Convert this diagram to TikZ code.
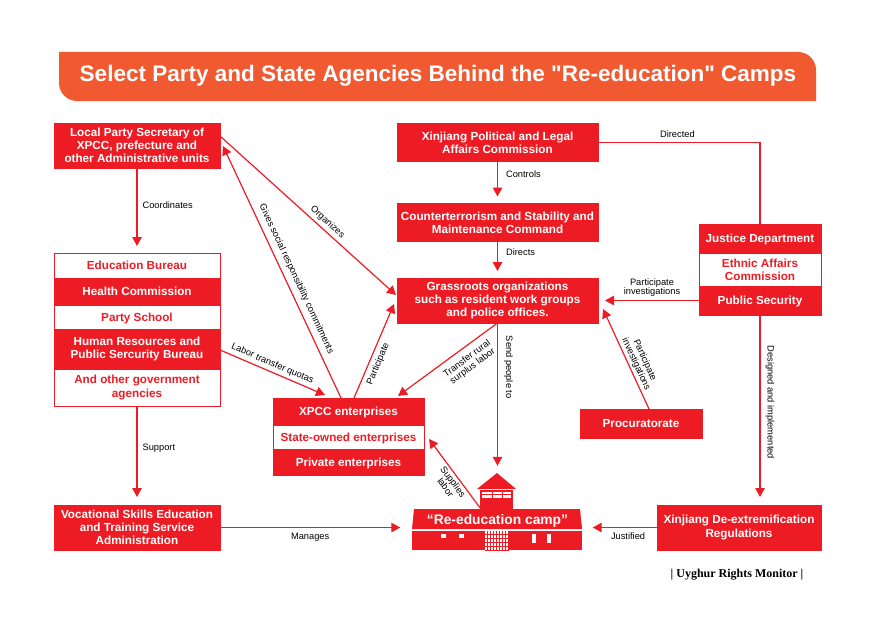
\documentclass[tikz,border=0pt]{standalone}
\usepackage{fontspec}
\setmainfont{Liberation Sans}
\newfontfamily\titlefont{Liberation Sans}
\newfontfamily\footerfont{Liberation Serif}
\usetikzlibrary{arrows.meta,positioning,calc}
\definecolor{figred}{HTML}{ED1C24}
\definecolor{figorange}{HTML}{F15A30}
\tikzset{
  redbox/.style={
    rectangle, draw=figred, fill=figred, text=white, line width=0.8pt,
    font=\fontsize{11.7}{13.3}\selectfont\bfseries,
    align=center, inner sep=0pt, outer sep=0pt
  },
  whitebox/.style={
    redbox, fill=white, text=figred
  },
  oneline/.style={text height=10pt, text depth=2pt},
  arrow/.style={-{Triangle[length=9pt,width=9.5pt]}, line width=1.2pt, draw=figred},
  plainline/.style={line width=1.2pt, draw=figred},
  edgelabel/.style={font=\fontsize{9.3}{9.5}\selectfont, align=center, inner sep=0pt}
}

\begin{document}
\begin{tikzpicture}[x=1pt,y=-1pt]
  \useasboundingbox (0,0) rectangle (875,618);

  \fill[figorange] (59,52) [rounded corners=18pt] -- (816,52) [sharp corners] -- (816,101)
    [rounded corners=18pt] -- (59,101) [sharp corners] -- cycle;
  \node[text=white, font=\titlefont\fontsize{22.5}{26}\selectfont\bfseries] (title) at (438,75.5) {Select Party and State Agencies Behind the "Re-education" Camps};

  \node[redbox, minimum width=166pt, minimum height=45pt] (secretary) at (137,145.5) {Local Party Secretary of\\XPCC, prefecture and\\other Administrative units};

  \node[whitebox, oneline, minimum width=166pt, minimum height=25pt] (education) at (137,265.5) {Education Bureau};
  \node[redbox, oneline, minimum width=166pt, minimum height=27pt, below=0pt of education] (health) {Health Commission};
  \node[whitebox, oneline, minimum width=166pt, minimum height=24pt, below=0pt of health] (school) {Party School};
  \node[redbox, minimum width=166pt, minimum height=40pt, below=0pt of school] (resources) {Human Resources and\\Public Sercurity Bureau};
  \node[whitebox, minimum width=166pt, minimum height=37pt, below=0pt of resources] (other) {And other government\\agencies};

  \node[redbox, minimum width=166pt, minimum height=45pt] (vocational) at (137,527.5) {Vocational Skills Education\\and  Training Service\\Administration};

  \node[redbox, minimum width=201pt, minimum height=38pt] (political) at (497.5,142.5) {Xinjiang Political and Legal\\Affairs Commission};
  \node[redbox, minimum width=201pt, minimum height=38pt] (command) at (497.5,222.5) {Counterterrorism and Stability and\\Maintenance Command};
  \node[redbox, minimum width=201pt, minimum height=45pt] (grassroots) at (497.5,300.5) {Grassroots organizations\\such as resident work groups\\and police offices.};

  \node[redbox, oneline, minimum width=122pt, minimum height=29pt] (justice) at (760,238.5) {Justice Department};
  \node[whitebox, minimum width=122pt, minimum height=33pt, below=0pt of justice] (ethnic) {Ethnic Affairs\\Commission};
  \node[redbox, oneline, minimum width=122pt, minimum height=29pt, below=0pt of ethnic] (security) {Public Security};

  \node[redbox, oneline, minimum width=122pt, minimum height=29pt] (procuratorate) at (641,423.5) {Procuratorate};

  \node[redbox, oneline, minimum width=151pt, minimum height=27pt] (xpcc) at (348.5,411.5) {XPCC enterprises};
  \node[whitebox, oneline, minimum width=151pt, minimum height=24pt, below=0pt of xpcc] (stateowned) {State-owned enterprises};
  \node[redbox, oneline, minimum width=151pt, minimum height=26pt, below=0pt of stateowned] (private) {Private enterprises};

  \node[redbox, minimum width=164pt, minimum height=45pt] (regulations) at (739,527.5) {Xinjiang De-extremification\\Regulations};

  \fill[figred] (497,473) -- (516,489) -- (477,489) -- cycle;
  \fill[figred] (480,490) rectangle (513,509);
  \fill[white] (482,492) rectangle (511,498);
  \draw[figred, line width=0.7pt] (492,492) -- (492,498) (502,492) -- (502,498) (482,494) -- (511,494);
  \fill[figred] (414,509) -- (580,509) -- (582,529) -- (412,529) -- cycle;
  \fill[figred] (412,531) rectangle (582,550);
  \fill[white] (485,531) rectangle (509,550);
  \foreach \gatex in {487,490,...,508} {
    \draw[figred, line width=0.7pt] (\gatex,531) -- (\gatex,550);
  }
  \foreach \gatey in {534,538,...,550} {
    \draw[figred, line width=0.6pt] (485,\gatey) -- (509,\gatey);
  }
  \fill[white] (441,534) rectangle (446,538);
  \fill[white] (459,534) rectangle (464,538);
  \fill[white] (532,534) rectangle (536,543);
  \fill[white] (547,534) rectangle (551,543);
  \node[text=white, font=\fontsize{13.8}{16}\selectfont\bfseries, inner sep=0pt, minimum width=170pt, minimum height=20pt] (camp) at (497.5,520.5) {“Re-education camp”};

  \node[font=\footerfont\fontsize{12}{14}\selectfont\bfseries, inner sep=0pt] (monitor) at (737,575) {| Uyghur Rights Monitor |};

  \draw[arrow, shorten >=7pt] (secretary.south) -- node[edgelabel, right=5pt, pos=0.44] (coordinateslabel) {Coordinates} (education.north);
  \draw[arrow, shorten >=8pt] (other.south) -- node[edgelabel, right=5pt, pos=0.43] (supportlabel) {Support} (vocational.north);
  \draw[arrow] (vocational.east) -- node[edgelabel, below=5pt] (manageslabel) {Manages} ([xshift=-12pt]camp.west |- vocational.east);
  \draw[arrow] (regulations.west) -- node[edgelabel, below=5pt, pos=0.45] (justifiedlabel) {Justified} ([xshift=10pt]camp.east |- regulations.west);
  \draw[arrow, shorten >=7pt] (political.south) -- node[edgelabel, right=8pt, pos=0.31] (controlslabel) {Controls} (command.north);
  \draw[arrow, shorten >=7pt] (command.south) -- node[edgelabel, right=8pt, pos=0.3] (directslabel) {Directs} (grassroots.north);
  \draw[plainline] (political.east) -| node[edgelabel, above=4.5pt, pos=0.245] (directedlabel) {Directed} (justice.north);
  \draw[arrow] (security.west) -- node[edgelabel, above=3pt] (investigateslabel) {Participate\\investigations} ([xshift=7pt]grassroots.east |- security.west);
  \draw[arrow] ([xshift=8pt]procuratorate.north) -- node[edgelabel, sloped, above=2pt, pos=0.42] (procuratelabel) {Participate\\investigations} ([xshift=5pt,yshift=14pt]grassroots.south east);
  \draw[arrow] (security.south) -- node[edgelabel, sloped, above=5pt, pos=0.48] (designedlabel) {Designed and implemented} ([yshift=8pt]security.south |- regulations.north);
  \draw[arrow] (grassroots.south) -- node[edgelabel, sloped, above=6pt, pos=0.31] (sendlabel) {Send people to} ([yshift=44.5pt]camp.north);
  \draw[arrow] (grassroots.south) -- node[edgelabel, sloped, below=6pt, pos=0.37] (transferlabel) {Transfer rural\\surplus labor} ([xshift=49.5pt,yshift=2pt]xpcc.north);
  \draw[arrow] ([yshift=-1pt]resources.east) -- node[edgelabel, sloped, above=3pt, pos=0.47] (quotaslabel) {Labor transfer quotas} ([xshift=-23.5pt,yshift=3pt]xpcc.north);
  \draw[arrow] ([xshift=-7.5pt]xpcc.north) -- node[edgelabel, sloped, above=5pt, pos=0.455] (commitmentslabel) {Gives social responsibility commitments} ([xshift=3pt,yshift=-0.5pt]secretary.east);
  \draw[arrow] ([xshift=5.5pt]xpcc.north) -- node[edgelabel, sloped, below=4pt, pos=0.4] (participatelabel) {Participate} ([xshift=-3pt,yshift=-3.5pt]grassroots.west);
  \draw[arrow] ([yshift=9.5pt]secretary.east) -- node[edgelabel, sloped, above=3pt, pos=0.58] (organizeslabel) {Organizes} ([xshift=-1pt,yshift=5.5pt]grassroots.west);
  \draw[arrow] ([xshift=-17.5pt,yshift=2.5pt]camp.north) -- node[edgelabel, sloped, below=2pt, pos=0.43] (supplieslabel) {Supplies\\labor} ([xshift=5pt,yshift=-2pt]stateowned.east);
\end{tikzpicture}
\end{document}
